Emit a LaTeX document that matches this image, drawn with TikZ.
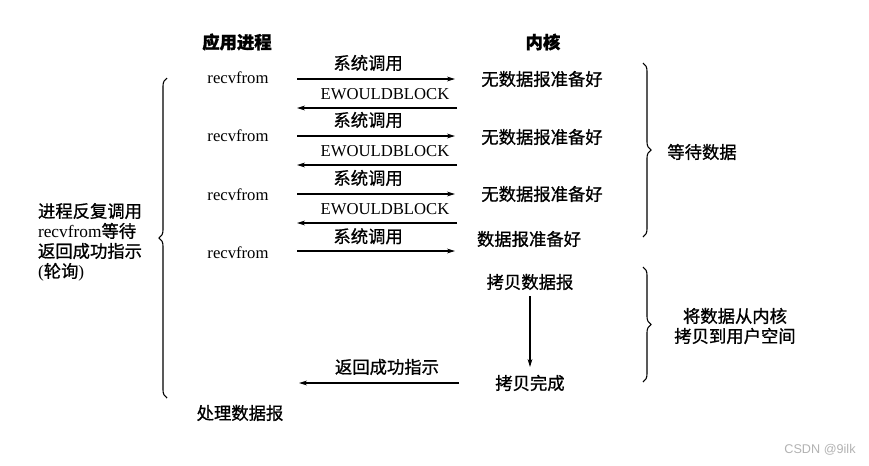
\documentclass[tikz,border=0pt]{standalone}
\usepackage{fontspec}
\setmainfont{Liberation Serif}
\newfontfamily\cjk[FakeBold=0.9]{Noto Sans CJK SC}
\newfontfamily\cjkbold[FakeBold=1.2]{Noto Sans CJK SC}
\newfontfamily\wmfont{Liberation Sans}
\usetikzlibrary{arrows.meta,decorations.pathreplacing}
\begin{document}
\begin{tikzpicture}[x=0.75pt,y=-0.75pt,
  every node/.style={inner sep=0pt,outer sep=0pt},
  lat/.style={font=\fontsize{12.5pt}{14pt}\selectfont},
  zh/.style={font=\fontsize{13pt}{15pt}\selectfont\cjk},
  zhb/.style={font=\fontsize{13pt}{15pt}\selectfont\cjkbold\bfseries},
  msg/.style={line width=0.8pt,-{Stealth[length=6pt,width=3.6pt]}},
  curly/.style={line width=0.8pt,decorate,decoration={brace,amplitude=6pt}}]
\useasboundingbox (0,0) rectangle (869,465);

% column headers
\node[zhb] (app) at (237,42) {应用进程};
\node[zhb] (kern) at (543,42) {内核};

% application side calls
\node[lat] (r1) at (238,78) {recvfrom};
\node[lat] (r2) at (238,136) {recvfrom};
\node[lat] (r3) at (238,195) {recvfrom};
\node[lat] (r4) at (238,253) {recvfrom};
\node[zh] (proc) at (240,413) {处理数据报};

% kernel side states
\node[zh] (k1) at (542,79) {无数据报准备好};
\node[zh] (k2) at (542,137) {无数据报准备好};
\node[zh] (k3) at (542,194) {无数据报准备好};
\node[zh] (k4) at (529,239) {数据报准备好};
\node[zh] (cp) at (530,282) {拷贝数据报};
\node[zh] (done) at (530,383) {拷贝完成};

% arrow end points
\coordinate (a1) at (297,79);  \coordinate (b1) at (455,79);
\coordinate (a2) at (297,108); \coordinate (b2) at (457,108);
\coordinate (a3) at (297,136); \coordinate (b3) at (455,136);
\coordinate (a4) at (297,165); \coordinate (b4) at (457,165);
\coordinate (a5) at (297,194); \coordinate (b5) at (455,194);
\coordinate (a6) at (297,223); \coordinate (b6) at (457,223);
\coordinate (a7) at (297,251); \coordinate (b7) at (455,251);
\coordinate (a8) at (299,383); \coordinate (b8) at (459,383);
\coordinate (c0) at (530,296); \coordinate (c1) at (530,367);

% system calls and replies
\draw[msg] (a1) -- (b1) node[zh,pos=0.45,above=6pt] (s1) {系统调用};
\draw[msg] (b2) -- (a2) node[lat,pos=0.45,above=6pt] (e1) {EWOULDBLOCK};
\draw[msg] (a3) -- (b3) node[zh,pos=0.45,above=6pt] (s2) {系统调用};
\draw[msg] (b4) -- (a4) node[lat,pos=0.45,above=6pt] (e2) {EWOULDBLOCK};
\draw[msg] (a5) -- (b5) node[zh,pos=0.45,above=6pt] (s3) {系统调用};
\draw[msg] (b6) -- (a6) node[lat,pos=0.45,above=6pt] (e3) {EWOULDBLOCK};
\draw[msg] (a7) -- (b7) node[zh,pos=0.45,above=5pt] (s4) {系统调用};
\draw[msg] (b8) -- (a8) node[zh,pos=0.45,above=6pt] (ok) {返回成功指示};

% copy inside the kernel
\draw[msg] (c0) -- (c1);

% braces with their explanations
\draw[curly] (167,398) -- (167,78);
\draw[curly] (643,63) -- (643,237);
\draw[curly] (643,267) -- (643,382);

\node[zh,align=left,anchor=north west] (poll) at (38,203)
  {进程反复调用\\{\rmfamily recvfrom}等待\\返回成功指示\\{\rmfamily(}轮询{\rmfamily)}};
\node[zh] (wait) at (702,152) {等待数据};
\node[zh,align=center] (copy) at (735,326) {将数据从内核\\拷贝到用户空间};

% watermark
\node[font=\fontsize{9.5pt}{11pt}\selectfont\wmfont,text=black!30] (wm) at (820,450) {CSDN @9ilk};
\end{tikzpicture}
\end{document}
